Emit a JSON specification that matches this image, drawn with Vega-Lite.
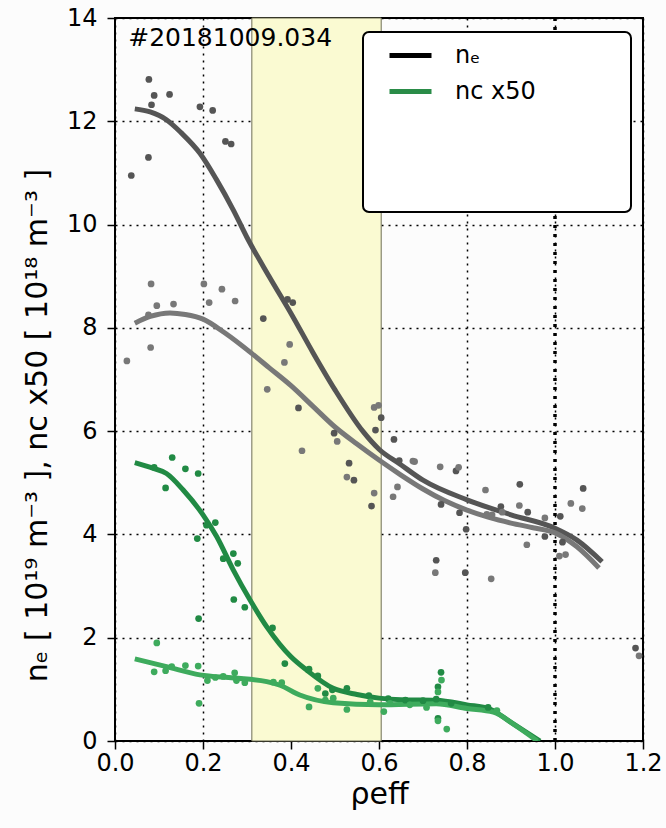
{
  "$schema": "https://vega.github.io/schema/vega-lite/v6.json",
  "width": 528,
  "height": 723,
  "autosize": {"type": "none"},
  "padding": {"left": 115, "top": 18, "right": 23, "bottom": 87},
  "background": "#fcfcfc",
  "config": {
    "font": "DejaVu Sans",
    "view": {"stroke": "black", "strokeWidth": 2, "fill": "#fcfcfc"},
    "axis": {
      "zindex": 1,
      "domain": false,
      "tickColor": "black",
      "tickSize": 8,
      "tickWidth": 1.5,
      "labelFont": "DejaVu Sans",
      "labelFontSize": 24,
      "labelColor": "black",
      "labelFlush": false,
      "labelOverlap": false,
      "grid": true,
      "gridColor": "black",
      "gridDash": [2, 5],
      "gridWidth": 1.5,
      "gridOpacity": 1,
      "titleFont": "DejaVu Sans",
      "titleFontWeight": "normal",
      "titleColor": "black",
      "titleFontSize": 30
    }
  },
  "datasets": {
    "curves": [
      {"series": "ne1", "x": 0.045, "y": 12.24}, {"series": "ne1", "x": 0.08, "y": 12.18}, {"series": "ne1", "x": 0.117, "y": 12.03}, {"series": "ne1", "x": 0.15, "y": 11.78}, {"series": "ne1", "x": 0.193, "y": 11.38}, {"series": "ne1", "x": 0.23, "y": 10.88}, {"series": "ne1", "x": 0.269, "y": 10.28}, {"series": "ne1", "x": 0.3, "y": 9.75}, {"series": "ne1", "x": 0.35, "y": 9.0}, {"series": "ne1", "x": 0.402, "y": 8.25}, {"series": "ne1", "x": 0.45, "y": 7.52}, {"series": "ne1", "x": 0.5, "y": 6.8}, {"series": "ne1", "x": 0.564, "y": 5.99}, {"series": "ne1", "x": 0.6, "y": 5.65}, {"series": "ne1", "x": 0.648, "y": 5.36}, {"series": "ne1", "x": 0.7, "y": 5.05}, {"series": "ne1", "x": 0.8, "y": 4.67}, {"series": "ne1", "x": 0.9, "y": 4.38}, {"series": "ne1", "x": 1.0, "y": 4.12}, {"series": "ne1", "x": 1.05, "y": 3.89}, {"series": "ne1", "x": 1.107, "y": 3.47},
      {"series": "ne2", "x": 0.045, "y": 8.09}, {"series": "ne2", "x": 0.08, "y": 8.22}, {"series": "ne2", "x": 0.125, "y": 8.29}, {"series": "ne2", "x": 0.16, "y": 8.26}, {"series": "ne2", "x": 0.2, "y": 8.17}, {"series": "ne2", "x": 0.25, "y": 7.9}, {"series": "ne2", "x": 0.31, "y": 7.51}, {"series": "ne2", "x": 0.35, "y": 7.23}, {"series": "ne2", "x": 0.4, "y": 6.88}, {"series": "ne2", "x": 0.45, "y": 6.48}, {"series": "ne2", "x": 0.5, "y": 6.08}, {"series": "ne2", "x": 0.55, "y": 5.75}, {"series": "ne2", "x": 0.6, "y": 5.44}, {"series": "ne2", "x": 0.65, "y": 5.15}, {"series": "ne2", "x": 0.7, "y": 4.88}, {"series": "ne2", "x": 0.75, "y": 4.65}, {"series": "ne2", "x": 0.8, "y": 4.47}, {"series": "ne2", "x": 0.85, "y": 4.33}, {"series": "ne2", "x": 0.9, "y": 4.22}, {"series": "ne2", "x": 0.95, "y": 4.13}, {"series": "ne2", "x": 1.0, "y": 4.03}, {"series": "ne2", "x": 1.05, "y": 3.76}, {"series": "ne2", "x": 1.1, "y": 3.35},
      {"series": "nc1", "x": 0.045, "y": 5.39}, {"series": "nc1", "x": 0.087, "y": 5.28}, {"series": "nc1", "x": 0.117, "y": 5.18}, {"series": "nc1", "x": 0.155, "y": 4.86}, {"series": "nc1", "x": 0.2, "y": 4.38}, {"series": "nc1", "x": 0.231, "y": 3.96}, {"series": "nc1", "x": 0.269, "y": 3.31}, {"series": "nc1", "x": 0.307, "y": 2.73}, {"series": "nc1", "x": 0.345, "y": 2.21}, {"series": "nc1", "x": 0.4, "y": 1.63}, {"series": "nc1", "x": 0.436, "y": 1.37}, {"series": "nc1", "x": 0.496, "y": 1.02}, {"series": "nc1", "x": 0.55, "y": 0.9}, {"series": "nc1", "x": 0.6, "y": 0.83}, {"series": "nc1", "x": 0.65, "y": 0.8}, {"series": "nc1", "x": 0.73, "y": 0.79}, {"series": "nc1", "x": 0.8, "y": 0.7}, {"series": "nc1", "x": 0.852, "y": 0.62}, {"series": "nc1", "x": 0.9, "y": 0.36}, {"series": "nc1", "x": 0.966, "y": 0.0},
      {"series": "nc2", "x": 0.045, "y": 1.59}, {"series": "nc2", "x": 0.117, "y": 1.44}, {"series": "nc2", "x": 0.193, "y": 1.28}, {"series": "nc2", "x": 0.27, "y": 1.22}, {"series": "nc2", "x": 0.345, "y": 1.15}, {"series": "nc2", "x": 0.375, "y": 1.08}, {"series": "nc2", "x": 0.42, "y": 0.89}, {"series": "nc2", "x": 0.496, "y": 0.74}, {"series": "nc2", "x": 0.6, "y": 0.7}, {"series": "nc2", "x": 0.73, "y": 0.72}, {"series": "nc2", "x": 0.8, "y": 0.63}, {"series": "nc2", "x": 0.86, "y": 0.56}, {"series": "nc2", "x": 0.91, "y": 0.3}, {"series": "nc2", "x": 0.96, "y": 0.0}
    ],
    "points": [
      {"series": "ne1", "x": 0.077, "y": 12.81}, {"series": "ne1", "x": 0.089, "y": 12.5}, {"series": "ne1", "x": 0.083, "y": 12.32}, {"series": "ne1", "x": 0.124, "y": 12.52}, {"series": "ne1", "x": 0.037, "y": 10.95}, {"series": "ne1", "x": 0.076, "y": 11.3}, {"series": "ne1", "x": 0.193, "y": 12.28}, {"series": "ne1", "x": 0.222, "y": 12.21}, {"series": "ne1", "x": 0.251, "y": 11.61}, {"series": "ne1", "x": 0.264, "y": 11.56}, {"series": "ne1", "x": 0.337, "y": 8.18}, {"series": "ne1", "x": 0.392, "y": 8.55}, {"series": "ne1", "x": 0.404, "y": 8.49}, {"series": "ne1", "x": 0.417, "y": 6.45}, {"series": "ne1", "x": 0.498, "y": 5.96}, {"series": "ne1", "x": 0.532, "y": 5.38}, {"series": "ne1", "x": 0.543, "y": 5.05}, {"series": "ne1", "x": 0.605, "y": 6.26}, {"series": "ne1", "x": 0.592, "y": 6.02}, {"series": "ne1", "x": 0.634, "y": 5.84}, {"series": "ne1", "x": 0.583, "y": 4.55}, {"series": "ne1", "x": 0.646, "y": 5.43}, {"series": "ne1", "x": 0.775, "y": 5.23}, {"series": "ne1", "x": 0.741, "y": 4.58}, {"series": "ne1", "x": 0.783, "y": 4.42}, {"series": "ne1", "x": 0.798, "y": 4.1}, {"series": "ne1", "x": 0.73, "y": 3.5}, {"series": "ne1", "x": 0.796, "y": 3.26}, {"series": "ne1", "x": 0.877, "y": 4.54}, {"series": "ne1", "x": 0.92, "y": 4.97}, {"series": "ne1", "x": 0.938, "y": 4.43}, {"series": "ne1", "x": 0.977, "y": 3.96}, {"series": "ne1", "x": 1.012, "y": 4.35}, {"series": "ne1", "x": 1.017, "y": 3.85}, {"series": "ne1", "x": 1.064, "y": 4.89}, {"series": "ne1", "x": 1.183, "y": 1.8},
      {"series": "ne2", "x": 0.082, "y": 8.85}, {"series": "ne2", "x": 0.095, "y": 8.43}, {"series": "ne2", "x": 0.076, "y": 8.25}, {"series": "ne2", "x": 0.133, "y": 8.46}, {"series": "ne2", "x": 0.081, "y": 7.62}, {"series": "ne2", "x": 0.027, "y": 7.36}, {"series": "ne2", "x": 0.202, "y": 8.85}, {"series": "ne2", "x": 0.214, "y": 8.49}, {"series": "ne2", "x": 0.243, "y": 8.75}, {"series": "ne2", "x": 0.273, "y": 8.52}, {"series": "ne2", "x": 0.397, "y": 7.68}, {"series": "ne2", "x": 0.385, "y": 7.33}, {"series": "ne2", "x": 0.346, "y": 6.81}, {"series": "ne2", "x": 0.425, "y": 5.62}, {"series": "ne2", "x": 0.505, "y": 5.8}, {"series": "ne2", "x": 0.527, "y": 5.11}, {"series": "ne2", "x": 0.589, "y": 6.46}, {"series": "ne2", "x": 0.599, "y": 6.5}, {"series": "ne2", "x": 0.642, "y": 4.92}, {"series": "ne2", "x": 0.632, "y": 4.73}, {"series": "ne2", "x": 0.589, "y": 4.8}, {"series": "ne2", "x": 0.677, "y": 5.42}, {"series": "ne2", "x": 0.681, "y": 5.41}, {"series": "ne2", "x": 0.739, "y": 5.31}, {"series": "ne2", "x": 0.781, "y": 5.3}, {"series": "ne2", "x": 0.728, "y": 3.26}, {"series": "ne2", "x": 0.855, "y": 3.14}, {"series": "ne2", "x": 0.842, "y": 4.86}, {"series": "ne2", "x": 0.845, "y": 4.39}, {"series": "ne2", "x": 0.857, "y": 4.38}, {"series": "ne2", "x": 0.88, "y": 4.43}, {"series": "ne2", "x": 0.919, "y": 4.56}, {"series": "ne2", "x": 0.977, "y": 4.32}, {"series": "ne2", "x": 0.936, "y": 3.8}, {"series": "ne2", "x": 1.01, "y": 3.58}, {"series": "ne2", "x": 1.024, "y": 3.61}, {"series": "ne2", "x": 1.036, "y": 4.6}, {"series": "ne2", "x": 1.062, "y": 4.5}, {"series": "ne2", "x": 1.191, "y": 1.65},
      {"series": "nc1", "x": 0.089, "y": 5.3}, {"series": "nc1", "x": 0.13, "y": 5.49}, {"series": "nc1", "x": 0.16, "y": 5.27}, {"series": "nc1", "x": 0.189, "y": 5.18}, {"series": "nc1", "x": 0.115, "y": 4.9}, {"series": "nc1", "x": 0.208, "y": 4.18}, {"series": "nc1", "x": 0.228, "y": 4.23}, {"series": "nc1", "x": 0.187, "y": 3.92}, {"series": "nc1", "x": 0.246, "y": 3.53}, {"series": "nc1", "x": 0.269, "y": 3.63}, {"series": "nc1", "x": 0.279, "y": 3.44}, {"series": "nc1", "x": 0.27, "y": 2.74}, {"series": "nc1", "x": 0.295, "y": 2.59}, {"series": "nc1", "x": 0.19, "y": 2.37}, {"series": "nc1", "x": 0.358, "y": 2.19}, {"series": "nc1", "x": 0.386, "y": 1.5}, {"series": "nc1", "x": 0.441, "y": 1.39}, {"series": "nc1", "x": 0.461, "y": 1.26}, {"series": "nc1", "x": 0.478, "y": 0.92}, {"series": "nc1", "x": 0.494, "y": 0.99}, {"series": "nc1", "x": 0.527, "y": 1.02}, {"series": "nc1", "x": 0.577, "y": 0.88}, {"series": "nc1", "x": 0.621, "y": 0.82}, {"series": "nc1", "x": 0.66, "y": 0.79}, {"series": "nc1", "x": 0.7, "y": 0.78}, {"series": "nc1", "x": 0.73, "y": 0.81}, {"series": "nc1", "x": 0.741, "y": 1.33}, {"series": "nc1", "x": 0.734, "y": 1.05}, {"series": "nc1", "x": 0.734, "y": 0.44}, {"series": "nc1", "x": 0.764, "y": 0.73}, {"series": "nc1", "x": 0.848, "y": 0.65},
      {"series": "nc2", "x": 0.095, "y": 1.9}, {"series": "nc2", "x": 0.089, "y": 1.34}, {"series": "nc2", "x": 0.115, "y": 1.36}, {"series": "nc2", "x": 0.129, "y": 1.44}, {"series": "nc2", "x": 0.16, "y": 1.46}, {"series": "nc2", "x": 0.189, "y": 1.45}, {"series": "nc2", "x": 0.191, "y": 0.73}, {"series": "nc2", "x": 0.21, "y": 1.17}, {"series": "nc2", "x": 0.228, "y": 1.23}, {"series": "nc2", "x": 0.246, "y": 1.25}, {"series": "nc2", "x": 0.272, "y": 1.32}, {"series": "nc2", "x": 0.276, "y": 1.17}, {"series": "nc2", "x": 0.295, "y": 1.13}, {"series": "nc2", "x": 0.36, "y": 1.14}, {"series": "nc2", "x": 0.379, "y": 1.13}, {"series": "nc2", "x": 0.441, "y": 0.66}, {"series": "nc2", "x": 0.461, "y": 1.02}, {"series": "nc2", "x": 0.478, "y": 0.79}, {"series": "nc2", "x": 0.496, "y": 0.83}, {"series": "nc2", "x": 0.527, "y": 0.61}, {"series": "nc2", "x": 0.58, "y": 0.76}, {"series": "nc2", "x": 0.611, "y": 0.57}, {"series": "nc2", "x": 0.625, "y": 0.73}, {"series": "nc2", "x": 0.67, "y": 0.7}, {"series": "nc2", "x": 0.708, "y": 0.65}, {"series": "nc2", "x": 0.742, "y": 1.18}, {"series": "nc2", "x": 0.734, "y": 0.95}, {"series": "nc2", "x": 0.734, "y": 0.39}, {"series": "nc2", "x": 0.754, "y": 0.23}, {"series": "nc2", "x": 0.868, "y": 0.59}
    ],
    "legendRows": [
      {"entry": "nₑ", "x": null, "y": null}
    ],
    "band": [
      {"start": 0.311, "end": 0.605}
    ],
    "marker": [
      {"rho": 1.0, "label": "#20181009.034", "lx": 0.03, "ly": 13.45}
    ]
  },
  "layer": [
    {
      "data": {"name": "band"},
      "mark": {"type": "rect", "fill": "#fafad2", "stroke": "#6f6f55", "strokeWidth": 1},
      "encoding": {
        "x": {"field": "start", "type": "quantitative", "scale": {"domain": [0, 1.2], "nice": false}},
        "x2": {"field": "end"}
      }
    },
    {
      "data": {"name": "marker"},
      "mark": {"type": "rule", "color": "black", "strokeWidth": 3.5, "strokeDash": [3, 6]},
      "encoding": {"x": {"field": "rho", "type": "quantitative"}}
    },
    {
      "data": {"name": "curves"},
      "mark": {"type": "line", "strokeWidth": 5, "interpolate": "monotone", "clip": true},
      "encoding": {
        "x": {"field": "x", "type": "quantitative", "scale": {"domain": [0, 1.2], "nice": false},
          "axis": {"values": [0, 0.2, 0.4, 0.6, 0.8, 1.0, 1.2], "format": ".1f", "title": "ρeff", "titlePadding": 4}},
        "y": {"field": "y", "type": "quantitative", "scale": {"domain": [0, 14], "nice": false},
          "axis": {"values": [0, 2, 4, 6, 8, 10, 12, 14], "labelPadding": 10, "title": "nₑ   [ 10¹⁹ m⁻³ ],        nᴄ x50   [ 10¹⁸ m⁻³ ]", "titlePadding": 14, "titleY": 407}},
        "color": {"field": "series", "type": "nominal",
          "scale": {"domain": ["ne1", "ne2", "nc1", "nc2"], "range": ["#555555", "#787878", "#218a44", "#3eab5d"]},
          "legend": null},
        "detail": {"field": "series"}
      }
    },
    {
      "data": {"name": "points"},
      "mark": {"type": "circle", "size": 45, "opacity": 1},
      "encoding": {
        "x": {"field": "x", "type": "quantitative"},
        "y": {"field": "y", "type": "quantitative"},
        "color": {"field": "series", "type": "nominal", "legend": null}
      }
    },
    {
      "data": {"name": "marker"},
      "mark": {"type": "text", "fontSize": 25, "align": "left", "baseline": "alphabetic", "color": "black", "font": "DejaVu Sans"},
      "encoding": {
        "x": {"field": "lx", "type": "quantitative"},
        "y": {"field": "ly", "type": "quantitative"},
        "text": {"field": "label"}
      }
    },
    {
      "data": {"name": "legendRows"},
      "mark": {"type": "line", "strokeWidth": 5},
      "encoding": {
        "x": {"field": "x", "type": "quantitative"},
        "y": {"field": "y", "type": "quantitative"},
        "stroke": {"field": "entry", "type": "nominal",
          "scale": {"domain": ["nₑ", "nᴄ x50", "______________.", "_a", "_b"], "range": ["black", "#2a8c48", "rgba(0,0,0,0)", "rgba(0,0,0,0)", "rgba(0,0,0,0)"]},
          "legend": {
            "orient": "none", "legendX": 248, "legendY": 14, "title": null,
            "padding": 0, "strokeColor": "black", "cornerRadius": 6, "fillColor": "white",
            "symbolType": "stroke", "symbolSize": 1764, "symbolStrokeWidth": 5, "symbolOpacity": 1, "symbolOffset": 24,
            "labelFontSize": 24, "labelFont": "DejaVu Sans", "labelColor": "black", "labelOffset": 21, "labelLimit": 400,
            "rowPadding": -1,
            "encode": {
              "legend": {"update": {"strokeWidth": {"value": 2}}},
              "labels": {"update": {"opacity": {"signal": "indexof(datum.label, '_') === 0 ? 0 : 1"}}}
            }
          }
        }
      }
    }
  ]
}
